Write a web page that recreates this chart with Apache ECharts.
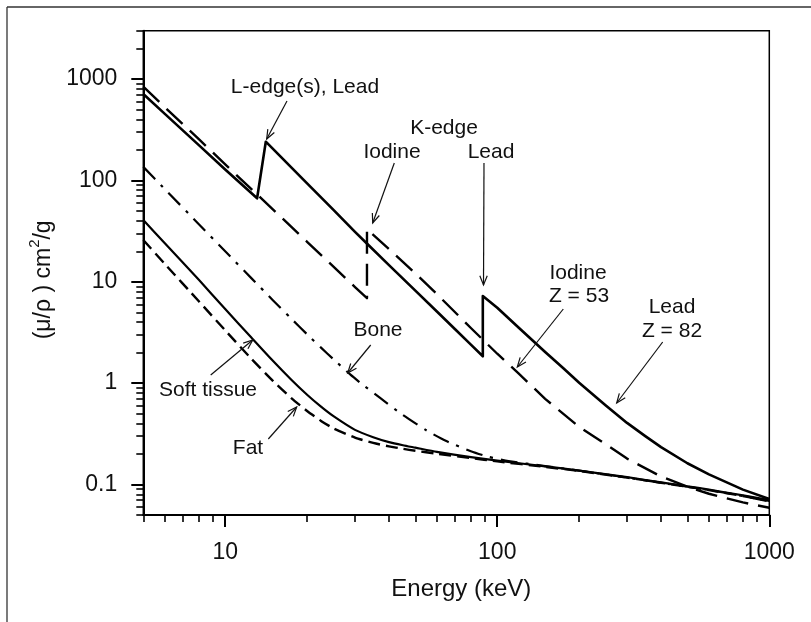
<!DOCTYPE html>
<html><head><meta charset="utf-8">
<script src="https://cdn.jsdelivr.net/npm/echarts@6/dist/echarts.min.js"></script>
<style>html,body{margin:0;padding:0;background:#fff}#c{width:811px;height:622px}</style>
</head><body><div id="c"></div>
<script>
// ---- data ----
const energyLead = [5, 6, 8, 10, 13.1, 14.1, 20, 25, 30, 33.1, 40, 50, 60, 70, 80, 88.5, 88.5, 100, 120, 150, 175, 200, 250, 300, 350, 400, 500, 600, 800, 1000];
const muLead     = [711, 453, 223, 128, 66.6, 241, 93.6, 51.3, 31.1, 24.0, 14.6, 8.17, 5.09, 3.40, 2.40, 1.84, 7.24, 5.55, 3.52, 2.03, 1.40, 1.01, 0.606, 0.405, 0.300, 0.234, 0.162, 0.126, 0.089, 0.072];

const energyIodine = [5, 6, 8, 10, 13, 15, 20, 25, 30, 33.2, 33.2, 40, 50, 60, 80, 100, 120, 150, 200, 250, 300, 400, 500, 600, 800, 1000];
const muIodine     = [840, 528, 255, 144, 74.1, 51.5, 24.8, 14.1, 8.87, 6.9, 33, 21, 12.1, 7.55, 3.5, 1.95, 1.24, 0.70, 0.37, 0.25, 0.18, 0.12, 0.095, 0.081, 0.0665, 0.059];

const energyBone = [5, 6, 8, 10, 12.5, 15, 17.5, 20, 22.5, 25, 28.8, 32, 37, 45, 55, 65, 80, 92, 110, 150, 200, 300, 400, 500, 600, 800, 1000];
const muBone     = [136, 82, 37, 20, 10.8, 6.55, 4.32, 3.03, 2.24, 1.72, 1.22, 0.966, 0.718, 0.485, 0.341, 0.268, 0.213, 0.189, 0.170, 0.152, 0.137, 0.117, 0.104, 0.095, 0.088, 0.077, 0.068];

const energySoft = [5, 6, 8, 10, 12.5, 15, 17.5, 20, 22.5, 25, 30, 35, 40, 45, 50, 60, 80, 100, 150, 200, 300, 400, 500, 600, 800, 1000];
const muSoft     = [40.7, 24.0, 10.45, 5.38, 2.80, 1.65, 1.08, 0.768, 0.586, 0.472, 0.346, 0.293, 0.262, 0.244, 0.231, 0.210, 0.186, 0.172, 0.151, 0.137, 0.118, 0.105, 0.096, 0.089, 0.078, 0.070];

const energyFat = [5, 6, 8, 10, 12.5, 15, 17.5, 20, 22.5, 25, 30, 35, 40, 45, 50, 60, 80, 100, 150, 200, 300, 400, 500, 600, 800, 1000];
const muFat     = [25.8, 15.0, 6.42, 3.32, 1.73, 1.047, 0.712, 0.531, 0.424, 0.358, 0.290, 0.257, 0.238, 0.225, 0.215, 0.201, 0.182, 0.169, 0.149, 0.136, 0.117, 0.104, 0.095, 0.088, 0.077, 0.069];

const xMajorTicks = [10, 100, 1000];
const xMinorTicks = [5, 6, 7, 8, 9, 20, 30, 40, 50, 60, 70, 80, 90, 200, 300, 400, 500, 600, 700, 800, 900];
const yMajorTicks = [0.1, 1, 10, 100, 1000];
const yMinorTicks = [0.05, 0.06, 0.07, 0.08, 0.09, 0.2, 0.3, 0.4, 0.5, 0.6, 0.7, 0.8, 0.9,
  2, 3, 4, 5, 6, 7, 8, 9, 20, 30, 40, 50, 60, 70, 80, 90, 200, 300, 400, 500, 600, 700, 800, 900, 2000, 3000];

const pairs = (xs, ys) => xs.map((x, i) => [x, ys[i]]);
const fmt = v => String(Number(Number(v).toPrecision(6)));
const FONT = 'Liberation Sans, Arial, Helvetica, sans-serif';

const chart = echarts.init(document.getElementById('c'), null, {renderer: 'canvas'});

function baseX(extra) {
  return Object.assign({
    type: 'log', logBase: 10, min: 5, max: 1000, gridIndex: 0, position: 'bottom',
    splitLine: {show: false}, minorTick: {show: false}, minorSplitLine: {show: false}
  }, extra);
}
function baseY(extra) {
  return Object.assign({
    type: 'log', logBase: 10, min: 0.05, max: 3000, gridIndex: 0, position: 'left',
    splitLine: {show: false}, minorTick: {show: false}, minorSplitLine: {show: false}
  }, extra);
}

const series = [
  {name: 'Lead', data: pairs(energyLead, muLead), lineStyle: {width: 2.6, type: 'solid'}},
  {name: 'Iodine', data: pairs(energyIodine, muIodine), lineStyle: {width: 2.4, type: [22, 10]}},
  {name: 'Bone', data: pairs(energyBone, muBone), smooth: 0.2, lineStyle: {width: 2.2, type: [17, 8, 3, 8]}},
  {name: 'Soft tissue', data: pairs(energySoft, muSoft), smooth: 0.2, lineStyle: {width: 2.2, type: 'solid'}},
  {name: 'Fat', data: pairs(energyFat, muFat), smooth: 0.2, lineStyle: {width: 2.4, type: [12, 6]}}
].map(s => Object.assign({
  type: 'line', xAxisIndex: 0, yAxisIndex: 0, showSymbol: false, symbol: 'none',
  smooth: false, clip: true, animation: false, z: 3
}, s, {lineStyle: Object.assign({color: '#000', cap: 'butt', join: 'round'}, s.lineStyle)}));

// annotations (layout in pixels)
const labels = [
  ['L-edge(s), Lead', 305, 87],
  ['K-edge', 444, 128],
  ['Iodine', 392, 152],
  ['Lead', 491, 152],
  ['Iodine', 578, 273],
  ['Z = 53', 579, 296],
  ['Lead', 672, 307],
  ['Z = 82', 672, 331],
  ['Bone', 378, 330],
  ['Soft tissue', 208, 390],
  ['Fat', 248, 448]
];
const arrows = [
  [287, 101, 266.7, 139],
  [394.3, 163, 372.7, 223],
  [484, 163, 483.5, 285],
  [563.3, 309, 517.3, 367],
  [662.7, 342, 616.7, 403],
  [370.7, 345, 347.7, 373],
  [210.7, 375, 252.7, 340],
  [268.3, 439, 296.7, 407]
];
function arrowEls(a) {
  const [x1, y1, x2, y2] = a;
  const ang = Math.atan2(y2 - y1, x2 - x1);
  const L = 10, W = 0.38;
  const p1 = [x2 - L * Math.cos(ang - W), y2 - L * Math.sin(ang - W)];
  const p2 = [x2 - L * Math.cos(ang + W), y2 - L * Math.sin(ang + W)];
  return [
    {type: 'line', shape: {x1, y1, x2, y2}, style: {stroke: '#111', lineWidth: 1.2}, z: 10},
    {type: 'polyline', shape: {points: [p1, [x2, y2], p2]}, style: {stroke: '#111', lineWidth: 1.2, fill: null}, z: 10}
  ];
}
const graphic = [
  {type: 'line', shape: {x1: 7, y1: 7, x2: 7, y2: 622}, style: {stroke: '#333', lineWidth: 1.3}},
  {type: 'line', shape: {x1: 7, y1: 7, x2: 811, y2: 7}, style: {stroke: '#333', lineWidth: 1.3}}
];
labels.forEach(([t, x, y]) => graphic.push({
  type: 'text', x, y, z: 10,
  style: {text: t, fontSize: 21, fontFamily: FONT, fill: '#111', align: 'center', verticalAlign: 'middle'}
}));
arrows.forEach(a => graphic.push(...arrowEls(a)));

const option = {
  animation: false,
  backgroundColor: '#fff',
  grid: {left: 143.3, right: 41.7, top: 30.7, bottom: 107, show: true, borderColor: '#000', borderWidth: 1.5, backgroundColor: 'transparent'},
  xAxis: [
    baseX({
      name: 'Energy (keV)', nameLocation: 'middle', nameGap: 62,
      nameTextStyle: {fontSize: 24, fontFamily: FONT, color: '#111', padding: [0, 0, 0, 10]},
      axisLine: {show: true, lineStyle: {color: '#000', width: 2}},
      axisTick: {show: true, length: 12, lineStyle: {color: '#000', width: 2}, customValues: xMajorTicks},
      axisLabel: {show: true, customValues: xMajorTicks, formatter: fmt, fontSize: 23, fontFamily: FONT, color: '#111', margin: 26}
    }),
    baseX({
      axisLine: {show: false},
      axisTick: {show: true, length: 7, lineStyle: {color: '#000', width: 1.6}, customValues: xMinorTicks},
      axisLabel: {show: false}
    })
  ],
  yAxis: [
    baseY({
      name: '{a|(μ/ρ ) cm}{s|2}{a|/g}', nameLocation: 'middle', nameGap: 80, nameRotate: 90,
      nameTextStyle: {
        fontSize: 23, fontFamily: FONT, color: '#111', padding: [0, 14, 0, 0],
        rich: {
          a: {fontSize: 23, fontFamily: FONT, color: '#111', lineHeight: 28, verticalAlign: 'bottom'},
          s: {fontSize: 15, fontFamily: FONT, color: '#111', lineHeight: 28, verticalAlign: 'top'}
        }
      },
      axisLine: {show: true, lineStyle: {color: '#000', width: 2}},
      axisTick: {show: true, length: 12, lineStyle: {color: '#000', width: 2}, customValues: yMajorTicks},
      axisLabel: {show: true, customValues: yMajorTicks, formatter: fmt, fontSize: 23, fontFamily: FONT, color: '#111', margin: 26}
    }),
    baseY({
      axisLine: {show: false},
      axisTick: {show: true, length: 7, lineStyle: {color: '#000', width: 1.6}, customValues: yMinorTicks},
      axisLabel: {show: false}
    })
  ],
  series,
  graphic
};
chart.setOption(option);
</script>
</body></html>
